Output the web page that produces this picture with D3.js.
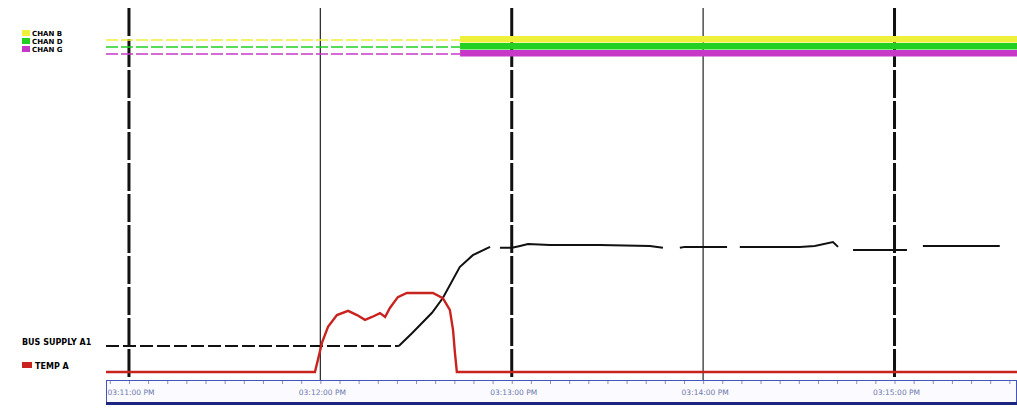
<!DOCTYPE html>
<html>
<head>
<meta charset="utf-8">
<script src="https://cdn.jsdelivr.net/npm/d3@7"></script>
<style>
  body { margin: 0; background: #fff; }
  svg { display: block; font-family: "DejaVu Sans", sans-serif; }
</style>
</head>
<body>
<div id="chart"></div>
<script>
// time is seconds from 03:11:00 PM
var base = new Date(2000, 0, 1, 15, 11, 0);
var timeStart = -7.2, timeEnd = 278.4;
var tickLabels = ["03:11:00 PM", "03:12:00 PM", "03:13:00 PM", "03:14:00 PM", "03:15:00 PM"];

// digital channels (on/off)
var channels = ["CHAN B", "CHAN D", "CHAN G"];
var channelOnAt = [103.8, 103.8, 103.8];
var channelColors = ["#eef03a", "#22d022", "#c838c8"];

// analog trends
var analogNames = ["BUS SUPPLY A1", "TEMP A"];
var blackT = [-7.2, 84.6, 88.8, 95, 98.4, 103.7, 107.8, 113.2, 115, 116.3, 120.1, 122.6, 125.1, 132, 147.6, 163.3, 167.4, 169,
              172.7, 174.3, 187.5, 189, 191.5, 210.3, 215, 220.7, 222.3, 224, 227, 243.9, 246, 248.9, 273];
var blackV = [10.6, 10.6, 14.7, 21, 25.6, 35.3, 39, 41.6, null, 41.3, 41.3, 41.9, 42.5, 42.2, 42.2, 41.9, 41.3, null,
              41.3, 41.6, 41.6, null, 41.6, 41.6, 41.9, 43.1, 41.6, null, 40.6, 40.6, null, 41.9, 41.9];
var redT = [-7.2, 58.3, 59.2, 60.5, 62.4, 65.2, 68.7, 71.5, 74, 76.2, 78.7, 80.3, 81.8, 84.3, 87.1, 95.3, 98.4, 100.6,
            101.6, 102.2, 102.8, 278.4];
var redV = [2.5, 2.5, 6.2, 11.6, 16.6, 20.3, 21.6, 20.3, 18.8, 19.7, 20.9, 19.7, 22.5, 25.9, 27.2, 27.2, 25.6, 21.9,
            15.6, 8.4, 2.5, 2.5];

var W = 1017, H = 408;
var margin = {left: 106, right: 0, top: 8, axis: 380};

var sec = function(s) { return new Date(base.getTime() + s * 1000); };

var x = d3.scaleTime()
    .domain([sec(timeStart), sec(timeEnd)])
    .range([margin.left, W - margin.right]);

var y = d3.scaleLinear()
    .domain([0, 100])
    .range([margin.axis, 60]);

var row = d3.scalePoint()
    .domain(channels)
    .range([39, 53]);

var svg = d3.select("#chart").append("svg")
    .attr("width", W)
    .attr("height", H);

// vertical grid at each minute, every other one heavy
var majors = d3.timeMinute.range(sec(0), sec(timeEnd));
svg.append("g").selectAll("line")
    .data(majors)
  .enter().append("line")
    .attr("x1", function(d) { return x(d); })
    .attr("x2", function(d) { return x(d); })
    .attr("y1", margin.top)
    .attr("y2", margin.axis + 2)
    .attr("stroke", function(d, i) { return i % 2 ? "#333" : "#111"; })
    .attr("stroke-width", function(d, i) { return i % 2 ? 1.3 : 3; })
    .attr("stroke-dasharray", function(d, i) { return i % 2 ? null : "28,3"; });

// digital channels
channels.forEach(function(c, i) {
  var on = sec(channelOnAt[i]);
  svg.append("line")
      .attr("x1", x(sec(timeStart))).attr("x2", x(on))
      .attr("y1", row(c) + 1).attr("y2", row(c) + 1)
      .attr("stroke", channelColors[i])
      .attr("stroke-width", 1.6)
      .attr("stroke-dasharray", "12,3");
  svg.append("rect")
      .attr("x", x(on))
      .attr("y", row(c) - 3)
      .attr("width", x(sec(timeEnd)) - x(on))
      .attr("height", 6.5)
      .attr("fill", channelColors[i]);
});

// digital legend
var dleg = svg.append("g");
channels.forEach(function(c, i) {
  var yy = 30 + i * 8;
  dleg.append("rect").attr("x", 22).attr("y", yy).attr("width", 8).attr("height", 6)
      .attr("fill", channelColors[i]);
  dleg.append("text").attr("x", 32).attr("y", yy + 6)
      .attr("font-size", 7).attr("font-weight", "bold").attr("fill", "#000")
      .text(c);
});

// analog lines
var line = d3.line()
    .defined(function(d) { return d[1] !== null; })
    .x(function(d) { return x(sec(d[0])); })
    .y(function(d) { return y(d[1]); });

var black = d3.zip(blackT, blackV);
// flat start looks dashed on the recorder, the rest is solid with dropouts
svg.append("path")
    .datum(black.filter(function(d) { return d[0] <= 84.6; }))
    .attr("fill", "none")
    .attr("stroke", "#111")
    .attr("stroke-width", 2)
    .attr("stroke-dasharray", "13,4")
    .attr("d", line);
svg.append("path")
    .datum(black.filter(function(d) { return d[0] >= 84.6; }))
    .attr("fill", "none")
    .attr("stroke", "#111")
    .attr("stroke-width", 2)
    .attr("d", line);

svg.append("path")
    .datum(d3.zip(redT, redV))
    .attr("fill", "none")
    .attr("stroke", "#c8231e")
    .attr("stroke-width", 2.4)
    .attr("d", line);

// analog legend
svg.append("text").attr("x", 22).attr("y", 345)
    .attr("font-size", 8).attr("font-weight", "bold").attr("fill", "#000")
    .text(analogNames[0]);
svg.append("rect").attr("x", 22).attr("y", 362).attr("width", 10).attr("height", 6)
    .attr("fill", "#c8231e");
svg.append("text").attr("x", 35).attr("y", 368.5)
    .attr("font-size", 8).attr("font-weight", "bold").attr("fill", "#000")
    .text(analogNames[1]);

// time axis box
var ax = svg.append("g");
ax.append("rect")
    .attr("x", margin.left + 0.5).attr("y", margin.axis + 0.5)
    .attr("width", W - margin.left - 1).attr("height", 22)
    .attr("fill", "#fafaff").attr("stroke", "#4455bb").attr("stroke-width", 1);
ax.append("rect")
    .attr("x", margin.left).attr("y", margin.axis + 22)
    .attr("width", W - margin.left).attr("height", 3)
    .attr("fill", "#1c2580");

ax.append("g")
    .attr("transform", "translate(0," + (margin.axis + 1) + ")")
    .call(d3.axisBottom(x).ticks(d3.timeSecond.every(6)).tickSize(3).tickFormat(""))
    .call(function(g) {
      g.select(".domain").remove();
      g.selectAll(".tick line").attr("stroke", "#8890bb");
    });

ax.selectAll(".lbl")
    .data(majors)
  .enter().append("text")
    .attr("class", "lbl")
    .attr("x", function(d) { return x(d) + 2; })
    .attr("y", margin.axis + 15)
    .attr("text-anchor", "middle")
    .attr("font-size", 7.5)
    .attr("fill", "#6f79ab")
    .text(function(d, i) { return tickLabels[i]; });
</script>
</body>
</html>
